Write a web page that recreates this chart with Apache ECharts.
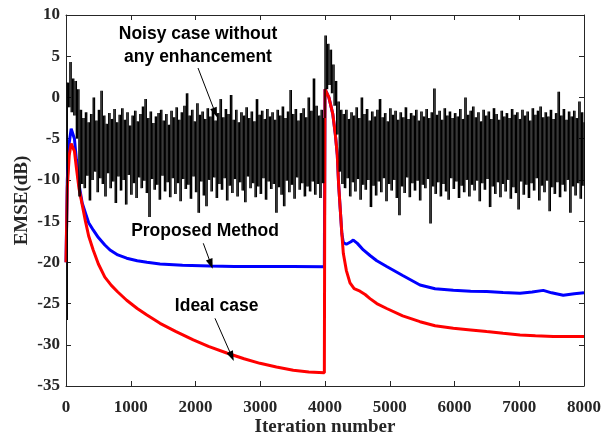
<!DOCTYPE html>
<html><head><meta charset="utf-8">
<script src="https://cdn.jsdelivr.net/npm/echarts/dist/echarts.min.js"></script>
<style>html,body{margin:0;padding:0;background:#fff}#c{width:603px;height:437px}</style>
</head><body><div id="c"></div>
<script>
// ---------- data ----------
const xTickStep = 1000;
const yTickStep = 5;

// Ideal case (red)
const idealIter = [0,20,50,80,100,130,160,200,250,300,350,420,500,600,700,800,937,1100,1250,1452,1700,1966,2200,2482,2750,2996,3250,3510,3750,3990,
  4000,4060,4120,4160,4190,4210,4235,4260,4283,4330,4386,4450,4540,4620,4695,4800,4953,5200,5467,5700,5982,6250,6497,6750,7012,7250,7526,7750,8000];
const idealEmse = [-20,-11,-7,-5.6,-5.5,-6.5,-8.5,-11,-13,-15,-16.8,-18.5,-20.2,-21.8,-22.8,-23.6,-24.6,-25.6,-26.4,-27.4,-28.4,-29.4,-30.2,-31.0,-31.7,-32.25,-32.7,-33.1,-33.3,-33.4,
  1,0,-2,-4.5,-7,-10.5,-13.5,-16.5,-18.9,-21,-22.5,-23.2,-23.5,-23.9,-24.4,-25,-25.6,-26.5,-27.2,-27.7,-28.0,-28.2,-28.4,-28.6,-28.8,-28.9,-29.0,-29.0,-29.0];

// Proposed method (blue)
const propIter = [0,20,50,80,100,130,160,200,250,300,350,422,500,600,680,800,937,1100,1250,1452,1800,2224,2600,2996,3500,3990,
  4000,4060,4120,4160,4190,4210,4235,4260,4283,4330,4400,4437,4500,4592,4700,4800,4953,5200,5467,5700,5982,6250,6497,6750,7012,7200,7371,7500,7680,7850,8000];
const propEmse = [-20,-10,-5.5,-3.8,-3.6,-5,-7.5,-10.5,-12.8,-14,-15.2,-16.1,-17,-17.9,-18.5,-19.1,-19.5,-19.8,-20.0,-20.2,-20.35,-20.45,-20.5,-20.5,-20.5,-20.55,
  1,0,-2,-4.5,-7,-10.5,-13.5,-16.5,-17.6,-17.8,-17.5,-17.3,-17.7,-18.5,-19.2,-19.8,-20.5,-21.6,-22.75,-23.2,-23.4,-23.5,-23.55,-23.65,-23.75,-23.6,-23.4,-23.7,-24.0,-23.8,-23.7];

// Noisy case without enhancement (black), one value every 20 iterations
const noiseStep = 20;
const noisyFirst = [ // iterations 0..3980
  -27,1.8,-1.2,4.3,-1.8,2.3,-2.2,2.0,-5,1.0,
  -12,-1.5,-10.5,-2.5,-11,-1.8,-9.5,-3,-12.5,-2,
  -10,0.0,-9,-2.8,-11.5,-1.5,-9.8,0.8,-10.5,-2.2,
  -12,-3.2,-9.2,-1.9,-11,-2.6,-10.2,-1.4,-12.8,-3,
  -9.6,-2.1,-11.3,-1.3,-10,-2.7,-13,-1.8,-9.4,-3.4,
  -11.8,-2.2,-10.4,-1.6,-12.2,-2.9,-9.7,-2,-11,-1.1,
  -10.1,-0.2,-11.6,-2.5,-14.5,-1.7,-9.9,-3.1,-11.2,-2.3,
  -10.6,-1.9,-12.4,-1.5,-9.5,-2.8,-11.4,-2,-10.3,-3.3,
  -12.1,-1.6,-9.8,-2.4,-11.7,-1.2,-10.4,-2.7,-12.6,-1.8,
  -9.9,-1.0,-11.1,0.5,-10.6,-2.2,-12.3,-1.5,-9.6,-2.9,
  -11.5,-0.7,-14,-2.1,-10.2,-1.7,-11.9,-2.6,-13.2,-1.3,
  -10,-2.3,-11.4,-1.6,-9.7,-2.8,-12.2,-1.9,-10.5,-0.2,
  -11.2,-2.4,-9.8,-1.4,-12.5,-2,-10.7,0.3,-11.6,-2.7,
  -9.9,-1.5,-12,-3,-10.3,-1.8,-11.3,-2.2,-12.7,-1.2,
  -9.6,-2.5,-11,-1.7,-10.4,-2.9,-12.1,-0.2,-10.8,-2.1,
  -11.7,-1.6,-9.8,-2.6,-12.4,-1.4,-10.2,-2.3,-11.1,-1.8,
  -10.5,-2.7,-14,-1.5,-10.9,-2.2,-11.8,-1.1,-13.2,-2.5,
  -10.1,-1.7,-11.5,0.9,-10.6,-2,-12.3,-1.4,-9.7,-2.8,
  -11.2,-1.9,-10.4,-1.3,-12,-2.4,-10.8,0.0,-11.4,-1.6,
  -10.2,2.3,-11.8,-1,-10.5,-2.2,-12.2,-1.5,-10.4,-2.5
];
const noisySecond = [ // iterations 4000..8000
  7.5,1.0,6.5,1.5,5.8,0.5,4.0,-1.0,2.0,-4.5,
  -0.5,-9,-1.5,-10.5,-2,-11,-1.5,-9.8,-2.6,-12,
  -1.8,-10.3,-2.2,-11.4,-1.2,-9.9,-2.5,-12.4,0.0,-10.6,
  -2,-11.2,-1.4,-10,-2.8,-13.3,-1.7,-10.7,-2.3,-11.9,
  -1.5,-10.2,-0.2,-11.5,-2.4,-9.8,-1.9,-12.6,-2.9,-10.5,
  -1.3,-11.3,-2.1,-10,-1.6,-12.2,-2.7,-14.3,-1.8,-10.8,
  -2.4,-11.6,-1.2,-9.7,-2.6,-12.1,-1.9,-10.4,-2.2,-11.3,
  -1.5,-10.1,-2.8,-12.5,-1.7,-10.6,-2.3,-11,-1.4,-9.9,
  -2.5,-15.3,-1.8,-10.8,1.1,-11.7,-2.1,-10.3,-1.6,-12,
  -2.7,-10.5,-1.3,-11.4,-2.2,-12.4,-1.7,-9.8,-2.5,-11.1,
  -1.9,-10.2,-2.3,-12.2,-1.4,-10.7,-2.6,-11.5,0.0,-10,
  -2.1,-12,-1.6,-10.6,-1.1,-11.3,-2.4,-10.1,-1.8,-12.6,
  -2.9,-10.4,-1.5,-11.2,-2.2,-9.9,-1.7,-13.3,-2.6,-10.8,
  -1.3,-11.7,-2,-10.3,-2.7,-12.1,-1.6,-10.5,-2.3,-11.4,
  -1.9,-10,-2.5,-12.3,-1.4,-10.9,-2.1,-11.6,-1.8,-13.6,
  -2.6,-10.2,-1.5,-11.8,-2.2,-10.6,-1.7,-12.2,-2.8,-10.4,
  -1.3,-11.3,-2.1,-9.8,-1.6,-12.5,-1.1,-10.7,-2.4,-11.5,
  -1.8,-10.1,-2.3,-13.8,-1.5,-10.9,-2.6,-11.7,-1.9,-10.3,
  0.7,-12.1,-2.2,-10.6,-1.4,-11.4,-2.7,-10,-1.7,-14,
  -2.3,-10.8,-1.6,-11.9,-2.5,-10.4,-0.5,-12.3,-1.8,-10.7,
  -3
];
const secondStart = 4000;

// annotation texts [label, iteration, EMSE]
const labelTexts = ['Noisy case without\nany enhancement', 'Proposed Method', 'Ideal case'];
const labelIter  = [2039, 2147, 2327];
const labelEmse  = [6.32, -16.28, -25.26];
// annotation arrows [fromIter, fromEmse, toIter, toEmse]
const arrows = [
  [2039, 3.57, 2305, -1.85],
  [2120, -17.69, 2238, -20.2],
  [2301, -26.79, 2560, -31.4]
];

// ---------- chart ----------
const idealData = idealIter.map((x, i) => [x, idealEmse[i]]);
const propData = propIter.map((x, i) => [x, propEmse[i]]);
const noisyPts = noisyFirst.map((v, i) => [i * noiseStep, v])
  .concat(noisySecond.map((v, i) => [secondStart + i * noiseStep, v]));
// each sample drawn as the trace segment from the previous sample to it: [iter, prevEmse, emse]
const noisySegs = noisyPts.map((p, i) => [p[0], i > 0 ? noisyPts[i - 1][1] : p[1], p[1]]);

const axisColor = '#262626';
const serif = '"Liberation Serif", "DejaVu Serif", serif';
const lblStyle = { fontFamily: serif, fontWeight: 'bold', fontSize: 17, color: axisColor, formatter: v => String(v) };
const lineAx = { show: true, onZero: false, lineStyle: { color: axisColor, width: 1 } };
const tickAx = { show: true, inside: true, length: 5, lineStyle: { color: axisColor } };
const nameStyle = { fontFamily: serif, fontWeight: 'bold', fontSize: 19, color: axisColor };

const chart = echarts.init(document.getElementById('c'), null, { renderer: 'canvas' });
chart.setOption({
  animation: false,
  backgroundColor: '#fff',
  grid: { left: 66, right: 19, top: 15, bottom: 51, containLabel: false, outerBoundsMode: 'none' },
  xAxis: [
    { type: 'value', min: 0, max: 8000, interval: xTickStep, position: 'bottom',
      axisLine: lineAx, axisTick: tickAx,
      axisLabel: Object.assign({ margin: 13 }, lblStyle),
      splitLine: { show: false },
      name: 'Iteration number', nameLocation: 'middle', nameGap: 32, nameMoveOverlap: false,
      nameTextStyle: nameStyle },
    { type: 'value', min: 0, max: 8000, interval: xTickStep, position: 'top',
      axisLine: lineAx, axisTick: tickAx,
      axisLabel: { show: false }, splitLine: { show: false } }
  ],
  yAxis: [
    { type: 'value', min: -35, max: 10, interval: yTickStep, position: 'left',
      axisLine: lineAx, axisTick: tickAx,
      axisLabel: Object.assign({ margin: 6 }, lblStyle),
      splitLine: { show: false },
      name: 'EMSE(dB)', nameLocation: 'middle', nameGap: 34, nameRotate: 90, nameMoveOverlap: false,
      nameTextStyle: nameStyle },
    { type: 'value', min: -35, max: 10, interval: yTickStep, position: 'right',
      axisLine: lineAx, axisTick: tickAx,
      axisLabel: { show: false }, splitLine: { show: false } }
  ],
  series: [
    { name: 'Proposed Method', type: 'line', data: propData, symbol: 'none', z: 2,
      lineStyle: { color: '#0000ff', width: 3 }, itemStyle: { color: '#0000ff' } },
    { name: 'Ideal case', type: 'line', data: idealData, symbol: 'none', z: 3,
      lineStyle: { color: '#ff0000', width: 3 }, itemStyle: { color: '#ff0000' } },
    { name: 'Noisy', type: 'custom', data: noisySegs, z: 4, silent: true,
      encode: { x: 0, y: [1, 2] }, progressive: 0,
      renderItem: (params, api) => {
        const a = api.coord([api.value(0), api.value(1)]);
        const b = api.coord([api.value(0), api.value(2)]);
        return { type: 'line', shape: { x1: a[0], y1: a[1], x2: b[0], y2: b[1] },
          style: { stroke: '#000', lineWidth: 1.35 } };
      } },
    { name: 'Arrows', type: 'line', data: [], z: 5, symbol: 'none',
      markLine: { silent: true, animation: false, symbol: ['none', 'triangle'], symbolSize: [7, 10],
        lineStyle: { color: '#000', width: 1, type: 'solid' }, label: { show: false },
        emphasis: { disabled: true },
        data: arrows.map(a => [{ coord: [a[0], a[1]] }, { coord: [a[2], a[3]] }]) } }
  ]
});

const graphics = labelTexts.map((t, i) => {
  const p = chart.convertToPixel({ xAxisIndex: 0, yAxisIndex: 0 }, [labelIter[i], labelEmse[i]]);
  return { type: 'text', x: p[0], y: p[1], z: 100,
    style: { text: t, textAlign: 'center', textVerticalAlign: 'middle',
      font: 'bold 17.5px "Liberation Sans", Arial, sans-serif', fill: '#000', lineHeight: 22.7 } };
});
chart.setOption({ graphic: graphics });
</script>
</body></html>
